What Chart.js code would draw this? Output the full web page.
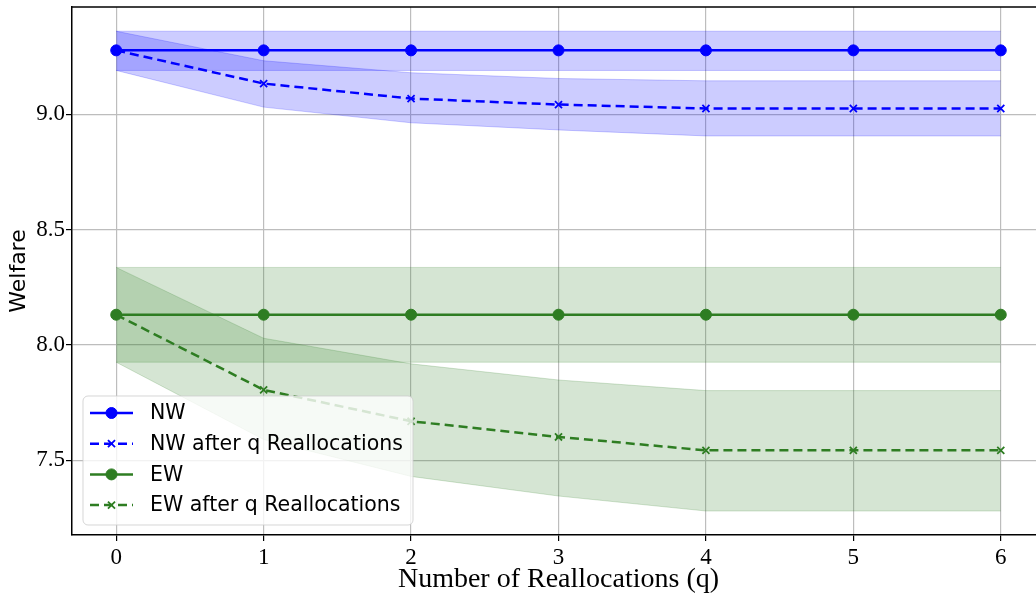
<!DOCTYPE html>
<html>
<head>
<meta charset="utf-8">
<script src="https://cdn.jsdelivr.net/npm/chart.js@4/dist/chart.umd.min.js"></script>
<style>
  html, body { margin: 0; padding: 0; background: #fff; overflow: hidden; }
  #wrap { width: 1060px; height: 597px; }
</style>
</head>
<body>
<div id="wrap"><canvas id="welfareChart" width="1060" height="597"></canvas></div>
<script>
// Données
const qValues = [0, 1, 2, 3, 4, 5, 6];
const xTicks = [0, 1, 2, 3, 4, 5, 6];
const yTicks = [7.5, 8.0, 8.5, 9.0];

const nw = [9.277, 9.277, 9.277, 9.277, 9.277, 9.277, 9.277];
const nwHigh = [9.36, 9.36, 9.36, 9.36, 9.36, 9.36, 9.36];
const nwLow = [9.19, 9.19, 9.19, 9.19, 9.19, 9.19, 9.19];

const nwAfter = [9.277, 9.133, 9.068, 9.042, 9.025, 9.025, 9.025];
const nwAfterHigh = [9.36, 9.232, 9.18, 9.155, 9.145, 9.145, 9.145];
const nwAfterLow = [9.19, 9.031, 8.963, 8.932, 8.906, 8.906, 8.906];

const ew = [8.131, 8.131, 8.131, 8.131, 8.131, 8.131, 8.131];
const ewHigh = [8.336, 8.336, 8.336, 8.336, 8.336, 8.336, 8.336];
const ewLow = [7.925, 7.925, 7.925, 7.925, 7.925, 7.925, 7.925];

const ewAfter = [8.131, 7.805, 7.669, 7.601, 7.543, 7.543, 7.543];
const ewAfterHigh = [8.336, 8.029, 7.918, 7.848, 7.802, 7.802, 7.802];
const ewAfterLow = [7.925, 7.59, 7.43, 7.345, 7.28, 7.28, 7.28];

const BLUE = '#0000ff';
const BLUE_BAND = 'rgba(0, 0, 255, 0.2)';
const GREEN = '#2e7d22';
const GREEN_BAND = 'rgba(46, 125, 34, 0.2)';

const toPoints = (values) => values.map((v, i) => ({ x: qValues[i], y: v }));

function lineSet(label, values, color, dashed) {
  return {
    label: label,
    data: toPoints(values),
    borderColor: color,
    backgroundColor: color,
    borderWidth: 2.5,
    borderDash: dashed ? [9, 5] : [],
    pointStyle: dashed ? 'crossRot' : 'circle',
    pointRadius: dashed ? 5 : 5.5,
    pointBorderWidth: dashed ? 1.8 : 1,
    pointBackgroundColor: color,
    pointBorderColor: color,
    fill: false,
    order: 0,
  };
}

// bande haute remplie jusqu'à la bande basse (dataset suivant)
function bandSet(values, color, fillTo) {
  return {
    label: '',
    isBand: true,
    data: toPoints(values),
    borderColor: color,
    backgroundColor: color,
    borderWidth: 1,
    pointRadius: 0,
    fill: fillTo,
    order: 1,
  };
}

const datasets = [
  lineSet('NW', nw, BLUE, false),
  lineSet('NW after q Reallocations', nwAfter, BLUE, true),
  lineSet('EW', ew, GREEN, false),
  lineSet('EW after q Reallocations', ewAfter, GREEN, true),
  bandSet(nwHigh, BLUE_BAND, '+1'),
  bandSet(nwLow, BLUE_BAND, false),
  bandSet(nwAfterHigh, BLUE_BAND, '+1'),
  bandSet(nwAfterLow, BLUE_BAND, false),
  bandSet(ewHigh, GREEN_BAND, '+1'),
  bandSet(ewLow, GREEN_BAND, false),
  bandSet(ewAfterHigh, GREEN_BAND, '+1'),
  bandSet(ewAfterLow, GREEN_BAND, false),
];

// Légende façon matplotlib + bordure du haut
const legendBox = {
  id: 'legendBox',
  afterDraw(chart) {
    const ctx = chart.ctx;
    const area = chart.chartArea;

    ctx.save();
    ctx.strokeStyle = '#000';
    ctx.lineWidth = 1.5;
    ctx.beginPath();
    ctx.moveTo(area.left, area.top);
    ctx.lineTo(area.right, area.top);
    ctx.stroke();

    const bx = area.left + 11;
    const bw = 330;
    const bh = 129;
    const by = area.bottom - 10 - bh;
    ctx.beginPath();
    ctx.roundRect(bx, by, bw, bh, 5);
    ctx.fillStyle = 'rgba(255, 255, 255, 0.8)';
    ctx.fill();
    ctx.strokeStyle = 'rgba(204, 204, 204, 0.8)';
    ctx.lineWidth = 1;
    ctx.stroke();

    const items = chart.data.datasets.filter((d) => !d.isBand);
    items.forEach((d, i) => {
      const y = by + 17 + i * 30.7;
      ctx.strokeStyle = d.borderColor;
      ctx.lineWidth = d.borderWidth;
      ctx.setLineDash(d.borderDash);
      ctx.beginPath();
      ctx.moveTo(bx + 7, y);
      ctx.lineTo(bx + 50, y);
      ctx.stroke();
      ctx.setLineDash([]);
      ctx.fillStyle = d.pointBackgroundColor;
      ctx.strokeStyle = d.pointBorderColor;
      ctx.lineWidth = d.pointBorderWidth;
      Chart.helpers.drawPoint(ctx, {
        pointStyle: d.pointStyle,
        radius: d.pointRadius,
        borderWidth: d.pointBorderWidth,
        rotation: 0,
      }, bx + 28.5, y);

      ctx.fillStyle = '#000';
      ctx.font = '20.5px "DejaVu Sans"';
      ctx.textBaseline = 'middle';
      ctx.textAlign = 'left';
      ctx.fillText(d.label, bx + 67, y + 1);
    });
    ctx.restore();
  }
};

const ctx = document.getElementById('welfareChart').getContext('2d');
const chart = new Chart(ctx, {
  type: 'line',
  data: { datasets: datasets },
  options: {
    responsive: false,
    animation: false,
    devicePixelRatio: 1,
    layout: { padding: { top: 7, right: 15, left: 0, bottom: 0 } },
    plugins: {
      legend: { display: false },
      tooltip: { enabled: false },
    },
    scales: {
      x: {
        type: 'linear',
        min: -0.3,
        max: 6.3,
        afterBuildTicks: (scale) => { scale.ticks = xTicks.map((v) => ({ value: v })); },
        afterFit: (scale) => {
          scale.height = 62;
          scale.paddingLeft = 0;
          scale.paddingRight = 0;
        },
        grid: { color: '#bdbdbd', lineWidth: 1.2, tickColor: '#000', tickLength: 6 },
        border: { color: '#000', width: 1.5 },
        ticks: {
          color: '#000',
          padding: 3,
          font: { family: '"Liberation Serif"', size: 23 },
          callback: (v) => String(v),
        },
        title: {
          display: true,
          text: 'Number of Reallocations (q)',
          color: '#000',
          font: { family: '"Liberation Serif"', size: 28 },
          padding: { top: 0, bottom: 1 },
        },
      },
      y: {
        type: 'linear',
        min: 7.176,
        max: 9.465,
        afterBuildTicks: (scale) => { scale.ticks = yTicks.map((v) => ({ value: v })); },
        afterFit: (scale) => {
          scale.width = 72;
          scale.paddingTop = 0;
          scale.paddingBottom = 0;
        },
        grid: { color: '#bdbdbd', lineWidth: 1.2, tickColor: '#000', tickLength: 6 },
        border: { color: '#000', width: 1.5 },
        ticks: {
          color: '#000',
          padding: 1,
          font: { family: '"Liberation Serif"', size: 23 },
          callback: (v) => v.toFixed(1),
        },
        title: {
          display: true,
          text: 'Welfare',
          color: '#000',
          font: { family: '"DejaVu Sans"', size: 22 },
          padding: { top: 6, bottom: 0 },
        },
      },
    },
  },
  plugins: [legendBox],
});
</script>
</body>
</html>
